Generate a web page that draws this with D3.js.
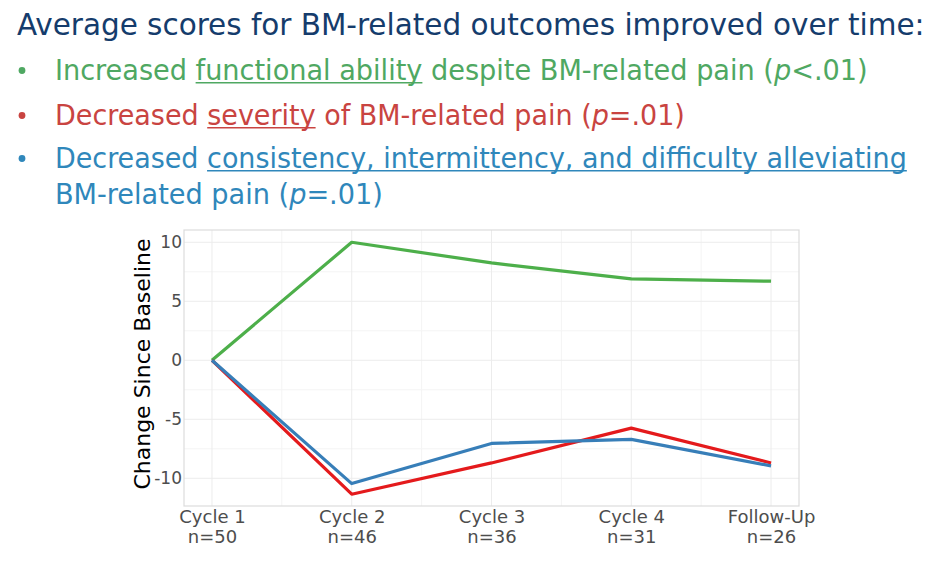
<!DOCTYPE html>
<html>
<head>
<meta charset="utf-8">
<script src="https://cdn.jsdelivr.net/npm/d3@7"></script>
<style>
  html, body { margin: 0; padding: 0; background: #ffffff; }
  svg { display: block; }
</style>
</head>
<body>
<svg id="chart" width="943" height="572"></svg>
<script>
// ---------------- data ----------------
const categories = ["Cycle 1", "Cycle 2", "Cycle 3", "Cycle 4", "Follow-Up"];
const sampleSizes = ["n=50", "n=46", "n=36", "n=31", "n=26"];
const functionalAbility = [0, 10.0, 8.25, 6.9, 6.7];
const severity = [0, -11.35, -8.7, -5.75, -8.7];
const consistency = [0, -10.45, -7.05, -6.7, -8.95];
const yTicks = [-10, -5, 0, 5, 10];
const yMinorTicks = [-7.5, -2.5, 2.5, 7.5];
const yDomain = [-12.35, 11.04];
const yTitle = "Change Since Baseline";

const titleText = "Average scores for BM-related outcomes improved over time:";
// each line: segments [text, underline?, italic?]
const bulletLines = [
  { color: "#4fa862", bullet: true, segs: [["Increased ", false, false], ["functional ability", true, false], [" despite BM-related pain (", false, false], ["p", false, true], ["<.01)", false, false]] },
  { color: "#c94441", bullet: true, segs: [["Decreased ", false, false], ["severity", true, false], [" of BM-related pain (", false, false], ["p", false, true], ["=.01)", false, false]] },
  { color: "#2f87bb", bullet: true, segs: [["Decreased ", false, false], ["consistency, intermittency, and difficulty alleviating", true, false]] },
  { color: "#2f87bb", bullet: false, segs: [["BM-related pain (", false, false], ["p", false, true], ["=.01)", false, false]] }
];

const series = [
  { name: "Functional ability", values: functionalAbility, color: "#4daf4a" },
  { name: "Severity", values: severity, color: "#e41a1c" },
  { name: "Consistency", values: consistency, color: "#377eb8" }
];

// ---------------- layout ----------------
const svg = d3.select("#chart");
const plot = { left: 184, right: 799, top: 230, bottom: 506 };
const headFont = "'Liberation Sans Narrow', 'DejaVu Sans Condensed', 'Open Sans', 'Noto Sans', sans-serif";
const axisFont = "'DejaVu Sans', 'Noto Sans', sans-serif";

// fitted text helper: draw then scale horizontally to target width
function fittedLine(segs, color, x0, x1, baseline, size, weight) {
  const g = svg.append("g");
  const t = g.append("text")
    .attr("x", 0).attr("y", 0)
    .attr("font-family", headFont)
    .attr("font-size", size)
    .attr("font-weight", weight || 400)
    .attr("fill", color);
  const spans = segs.map(s => t.append("tspan")
    .text(s[0])
    .attr("font-style", s[2] ? "italic" : "normal"));
  const w = t.node().getComputedTextLength();
  const k = (x1 - x0) / w;
  g.attr("transform", `translate(${x0},${baseline}) scale(${k},1)`);
  segs.forEach((s, i) => {
    if (!s[1]) return;
    const node = spans[i].node();
    const n = s[0].length;
    const a = node.getStartPositionOfChar(0).x;
    const b = node.getEndPositionOfChar(n - 1).x;
    g.append("line")
      .attr("x1", a).attr("x2", b)
      .attr("y1", size * 0.1).attr("y2", size * 0.1)
      .attr("stroke", color).attr("stroke-width", 1.6);
  });
  return g;
}

// title
fittedLine([[titleText, false, false]], "#153c6c", 17, 925, 35, 31);

const lineGeom = [
  { x1: 868, base: 80 },
  { x1: 685, base: 125 },
  { x1: 907, base: 168 },
  { x1: 383, base: 204 }
];
bulletLines.forEach((L, i) => {
  const geo = lineGeom[i];
  if (L.bullet) {
    svg.append("circle")
      .attr("cx", 22).attr("cy", geo.base - 9.5).attr("r", 3.4)
      .attr("fill", L.color);
  }
  fittedLine(L.segs, L.color, 55, geo.x1, geo.base, 28);
});

// ---------------- chart ----------------
const x = d3.scalePoint().domain(categories).range([plot.left, plot.right]).padding(0.2);
const y = d3.scaleLinear().domain(yDomain).range([plot.bottom, plot.top]);

const grid = svg.append("g");
// minor vertical gridlines (midpoints between categories)
const mids = categories.slice(1).map((c, i) => (x(categories[i]) + x(c)) / 2);
grid.selectAll(".vminor").data(mids).join("line")
  .attr("x1", d => d).attr("x2", d => d)
  .attr("y1", plot.top).attr("y2", plot.bottom)
  .attr("stroke", "#f4f4f4").attr("stroke-width", 1);
grid.selectAll(".hminor").data(yMinorTicks).join("line")
  .attr("x1", plot.left).attr("x2", plot.right)
  .attr("y1", d => y(d)).attr("y2", d => y(d))
  .attr("stroke", "#f4f4f4").attr("stroke-width", 1);
grid.selectAll(".vmajor").data(categories).join("line")
  .attr("x1", d => x(d)).attr("x2", d => x(d))
  .attr("y1", plot.top).attr("y2", plot.bottom)
  .attr("stroke", "#ececec").attr("stroke-width", 1);
grid.selectAll(".hmajor").data(yTicks).join("line")
  .attr("x1", plot.left).attr("x2", plot.right)
  .attr("y1", d => y(d)).attr("y2", d => y(d))
  .attr("stroke", "#ececec").attr("stroke-width", 1);

// panel border
svg.append("rect")
  .attr("x", plot.left).attr("y", plot.top)
  .attr("width", plot.right - plot.left).attr("height", plot.bottom - plot.top)
  .attr("fill", "none").attr("stroke", "#dcdcdc").attr("stroke-width", 1.2);

// lines
const line = d3.line().x((d, i) => x(categories[i])).y(d => y(d));
svg.selectAll(".series").data(series).join("path")
  .attr("d", d => line(d.values))
  .attr("fill", "none")
  .attr("stroke", d => d.color)
  .attr("stroke-width", 3.2)
  .attr("stroke-linejoin", "round")
  .attr("stroke-linecap", "butt");

// y axis
const yAxis = d3.axisLeft(y).tickValues(yTicks).tickSize(0).tickPadding(2).tickFormat(d => String(d));
const yg = svg.append("g").attr("transform", `translate(${plot.left},0)`).call(yAxis);
yg.select(".domain").remove();
yg.selectAll("text")
  .attr("font-family", axisFont).attr("font-size", 17)
  .attr("fill", "#4d4d4d");

// x axis
const xAxis = d3.axisBottom(x).tickSize(0).tickFormat(() => "");
const xg = svg.append("g").attr("transform", `translate(0,${plot.bottom})`).call(xAxis);
xg.select(".domain").remove();
xg.selectAll(".tick").each(function (d, i) {
  const t = d3.select(this).select("text")
    .attr("font-family", axisFont).attr("font-size", 18)
    .attr("fill", "#4d4d4d").attr("y", 0).attr("dy", null)
    .attr("text-anchor", "middle");
  t.append("tspan").attr("x", 0).attr("y", 17).text(d);
  t.append("tspan").attr("x", 0).attr("y", 37).text(sampleSizes[i]);
});

// y title
svg.append("text")
  .attr("transform", `translate(150,${(plot.top + plot.bottom) / 2 - 4}) rotate(-90)`)
  .attr("text-anchor", "middle")
  .attr("font-family", axisFont).attr("font-size", 22)
  .attr("fill", "#000000")
  .text(yTitle);
</script>
</body>
</html>
